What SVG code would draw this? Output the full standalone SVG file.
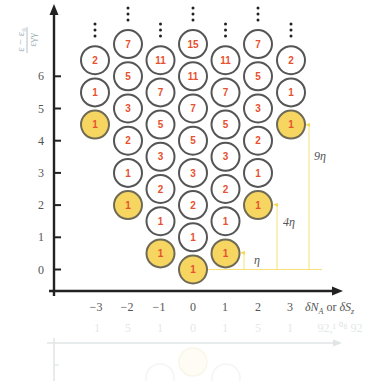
<svg xmlns="http://www.w3.org/2000/svg" width="371" height="381" viewBox="0 0 371 381">
<defs>
<style>
.c{fill:#fff;stroke:#555;stroke-width:2}
.y{fill:#f6d561;stroke:#6e6a55;stroke-width:2}
.n{font-family:"Liberation Sans",Arial,sans-serif;font-size:10px;font-weight:bold;fill:#e8502f;text-anchor:middle}
.t{font-family:"Liberation Serif","Times New Roman",serif;font-size:12px;fill:#555;text-anchor:middle}
.ax{stroke:#222;stroke-width:2.4;fill:none}
.tk{stroke:#222;stroke-width:2}
.g{stroke:#f7e27a;stroke-width:1;fill:none}
.d{fill:#222}
.lb{font-family:"Liberation Serif","Times New Roman",serif;font-size:12px;font-style:italic;fill:#555}
</style>
<g id="dots"><circle cx="0" cy="0" r="1.5"/><circle cx="0" cy="6" r="1.5"/><circle cx="0" cy="12" r="1.5"/></g>
</defs>
<rect width="371" height="381" fill="#fff"/>

<!-- ghost layer -->
<g id="ghost" opacity="0.28">
<line x1="47" y1="343" x2="336" y2="343" stroke="#8fa5a0" stroke-width="1.5"/>
<path d="M342 343 L333 339.5 L333 346.5 Z" fill="#8fa5a0"/>
<line x1="54" y1="338" x2="54" y2="381" stroke="#8fa5a0" stroke-width="1.5"/>
<line x1="54" y1="365" x2="59" y2="365" stroke="#8fa5a0" stroke-width="1.2"/>
<g class="t" style="fill:#9aa"><text x="97" y="332">1</text><text x="128" y="332">5</text><text x="160" y="332">1</text><text x="193" y="332">0</text><text x="225" y="332">1</text><text x="258" y="332">5</text><text x="290" y="332">1</text><text x="340" y="332">92,¹ ⁰⁸ 92</text></g>
<circle cx="193" cy="362" r="14" fill="#fdf6d8" stroke="#e8e2b0" stroke-width="1.5"/>
<circle cx="160" cy="378" r="14" fill="none" stroke="#d8dcd8" stroke-width="1.5"/>
<circle cx="226" cy="378" r="14" fill="none" stroke="#d8dcd8" stroke-width="1.5"/>
</g>

<!-- axes -->
<g id="axes">
<line class="ax" x1="54" y1="296" x2="54" y2="14"/>
<path d="M54 4 L49.5 15 L58.5 15 Z" class="d"/>
<line class="ax" x1="49" y1="291" x2="333" y2="291"/>
<path d="M343 291 L332 286.5 L332 295.5 Z" class="d"/>
<g class="tk">
<line x1="54" y1="269.5" x2="61" y2="269.5"/>
<line x1="54" y1="237.3" x2="61" y2="237.3"/>
<line x1="54" y1="205.1" x2="61" y2="205.1"/>
<line x1="54" y1="172.9" x2="61" y2="172.9"/>
<line x1="54" y1="140.7" x2="61" y2="140.7"/>
<line x1="54" y1="108.5" x2="61" y2="108.5"/>
<line x1="54" y1="76.3" x2="61" y2="76.3"/>
</g>
<g class="t">
<text x="41" y="273.5">0</text><text x="41" y="241.3">1</text><text x="41" y="209.1">2</text><text x="41" y="176.9">3</text><text x="41" y="144.7">4</text><text x="41" y="112.5">5</text><text x="41" y="80.3">6</text>
<text x="96" y="311">−3</text><text x="127" y="311">−2</text><text x="159" y="311">−1</text><text x="193" y="311">0</text><text x="225" y="311">1</text><text x="258" y="311">2</text><text x="290" y="311">3</text>
</g>
<text class="lb" x="305" y="311">δN<tspan font-size="8" dy="3">A</tspan><tspan font-style="normal" dy="-3"> or </tspan>δS<tspan font-size="8" dy="3">z</tspan></text>
<g transform="translate(27 40) rotate(-90)" font-family="Liberation Serif,serif" font-size="10.5" fill="#9fb0b8" text-anchor="middle">
<text x="0" y="-3">ε − ε₀</text>
<line x1="-13" y1="0" x2="13" y2="0" stroke="#9fb0b8" stroke-width="0.8"/>
<text x="0" y="9">εγγ</text>
</g>
</g>

<!-- guide lines -->
<g id="guides">
<line class="g" x1="207" y1="269.5" x2="322" y2="269.5"/>
<line class="g" x1="244" y1="253" x2="244" y2="269.5"/>
<line class="g" x1="277" y1="205" x2="277" y2="269.5"/>
<line class="g" x1="309" y1="125" x2="309" y2="269.5"/>
<g fill="#f5d850"><path d="M240 252.5 L245 251 L245 255 Z"/><path d="M273 204.5 L278 203 L278 207 Z"/><path d="M305 124.5 L310 123 L310 127 Z"/></g>
<text class="lb" x="254" y="264">η</text>
<text class="lb" x="283" y="226">4η</text>
<text class="lb" x="314" y="160">9η</text>
</g>

<!-- columns -->
<g id="col-m3">
<use href="#dots" x="95" y="24" class="d"/>
<circle class="c" cx="95" cy="60.2" r="14"/><text class="n" x="95" y="63.8">2</text>
<circle class="c" cx="95" cy="92.4" r="14"/><text class="n" x="95" y="96">1</text>
<circle class="y" cx="95" cy="124.6" r="14"/><text class="n" x="95" y="128.2">1</text>
</g>
<g id="col-m2">
<use href="#dots" x="128" y="8" class="d"/>
<circle class="c" cx="128" cy="44.1" r="14"/><text class="n" x="128" y="47.7">7</text>
<circle class="c" cx="128" cy="76.3" r="14"/><text class="n" x="128" y="79.9">5</text>
<circle class="c" cx="128" cy="108.5" r="14"/><text class="n" x="128" y="112.1">3</text>
<circle class="c" cx="128" cy="140.7" r="14"/><text class="n" x="128" y="144.3">2</text>
<circle class="c" cx="128" cy="172.9" r="14"/><text class="n" x="128" y="176.5">1</text>
<circle class="y" cx="128" cy="205.1" r="14"/><text class="n" x="128" y="208.7">1</text>
</g>
<g id="col-m1">
<use href="#dots" x="160.5" y="24" class="d"/>
<circle class="c" cx="160.5" cy="60.2" r="14"/><text class="n" x="160.5" y="63.8">11</text>
<circle class="c" cx="160.5" cy="92.4" r="14"/><text class="n" x="160.5" y="96">7</text>
<circle class="c" cx="160.5" cy="124.6" r="14"/><text class="n" x="160.5" y="128.2">5</text>
<circle class="c" cx="160.5" cy="156.8" r="14"/><text class="n" x="160.5" y="160.4">3</text>
<circle class="c" cx="160.5" cy="189" r="14"/><text class="n" x="160.5" y="192.6">2</text>
<circle class="c" cx="160.5" cy="221.2" r="14"/><text class="n" x="160.5" y="224.8">1</text>
<circle class="y" cx="160.5" cy="253.4" r="14"/><text class="n" x="160.5" y="257">1</text>
</g>
<g id="col-0">
<use href="#dots" x="193" y="8" class="d"/>
<circle class="c" cx="193" cy="44.1" r="14"/><text class="n" x="193" y="47.7">15</text>
<circle class="c" cx="193" cy="76.3" r="14"/><text class="n" x="193" y="79.9">11</text>
<circle class="c" cx="193" cy="108.5" r="14"/><text class="n" x="193" y="112.1">7</text>
<circle class="c" cx="193" cy="140.7" r="14"/><text class="n" x="193" y="144.3">5</text>
<circle class="c" cx="193" cy="172.9" r="14"/><text class="n" x="193" y="176.5">3</text>
<circle class="c" cx="193" cy="205.1" r="14"/><text class="n" x="193" y="208.7">2</text>
<circle class="c" cx="193" cy="237.3" r="14"/><text class="n" x="193" y="240.9">1</text>
<circle class="y" cx="193" cy="269.5" r="14"/><text class="n" x="193" y="273.1">1</text>
</g>
<g id="col-p1">
<use href="#dots" x="225.5" y="24" class="d"/>
<circle class="c" cx="225.5" cy="60.2" r="14"/><text class="n" x="225.5" y="63.8">11</text>
<circle class="c" cx="225.5" cy="92.4" r="14"/><text class="n" x="225.5" y="96">7</text>
<circle class="c" cx="225.5" cy="124.6" r="14"/><text class="n" x="225.5" y="128.2">5</text>
<circle class="c" cx="225.5" cy="156.8" r="14"/><text class="n" x="225.5" y="160.4">3</text>
<circle class="c" cx="225.5" cy="189" r="14"/><text class="n" x="225.5" y="192.6">2</text>
<circle class="c" cx="225.5" cy="221.2" r="14"/><text class="n" x="225.5" y="224.8">1</text>
<circle class="y" cx="225.5" cy="253.4" r="14"/><text class="n" x="225.5" y="257">1</text>
</g>
<g id="col-p2">
<use href="#dots" x="258" y="8" class="d"/>
<circle class="c" cx="258" cy="44.1" r="14"/><text class="n" x="258" y="47.7">7</text>
<circle class="c" cx="258" cy="76.3" r="14"/><text class="n" x="258" y="79.9">5</text>
<circle class="c" cx="258" cy="108.5" r="14"/><text class="n" x="258" y="112.1">3</text>
<circle class="c" cx="258" cy="140.7" r="14"/><text class="n" x="258" y="144.3">2</text>
<circle class="c" cx="258" cy="172.9" r="14"/><text class="n" x="258" y="176.5">1</text>
<circle class="y" cx="258" cy="205.1" r="14"/><text class="n" x="258" y="208.7">1</text>
</g>
<g id="col-p3">
<use href="#dots" x="291" y="24" class="d"/>
<circle class="c" cx="291" cy="60.2" r="14"/><text class="n" x="291" y="63.8">2</text>
<circle class="c" cx="291" cy="92.4" r="14"/><text class="n" x="291" y="96">1</text>
<circle class="y" cx="291" cy="124.6" r="14"/><text class="n" x="291" y="128.2">1</text>
</g>
</svg>
